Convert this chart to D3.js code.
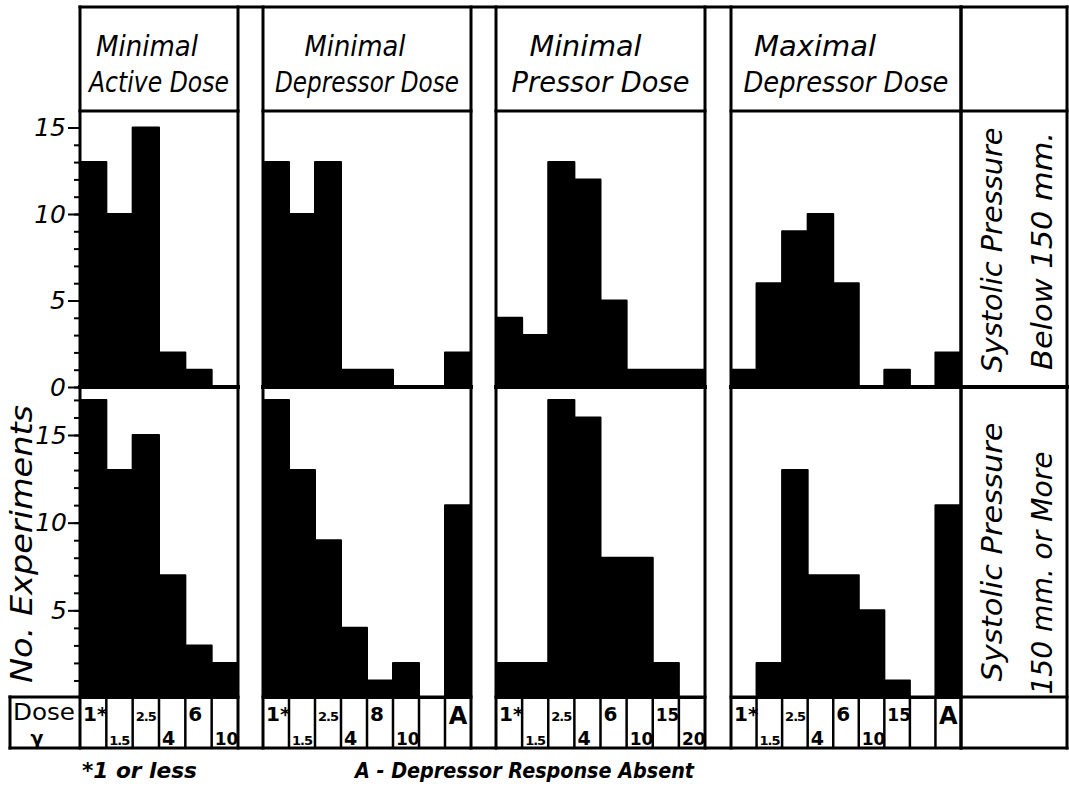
<!DOCTYPE html>
<html>
<head>
<meta charset="utf-8">
<script src="https://cdn.jsdelivr.net/npm/d3@7"></script>
<style>
html, body { margin: 0; padding: 0; background: #fff; overflow: hidden; }
svg { display: block; }
text { font-family: "DejaVu Sans", "Liberation Sans", sans-serif; fill: #000; }
</style>
</head>
<body>
<svg width="1069" height="788"></svg>
<script>
// column titles
var titleLine1 = ["Minimal", "Minimal", "Minimal", "Maximal"]
var titleLine2 = ["Active Dose", "Depressor Dose", "Pressor Dose", "Depressor Dose"]

// dose categories (gamma) per panel
var doseActive = ["1*", "1.5", "2.5", "4", "6", "10"]
var doseDepressor = ["1*", "1.5", "2.5", "4", "8", "10", "", "A"]
var dosePressor = ["1*", "1.5", "2.5", "4", "6", "10", "15", "20"]
var doseMaxDepressor = ["1*", "1.5", "2.5", "4", "6", "10", "15", "", "A"]

// no. of experiments, systolic pressure below 150 mm.
var belowActive = [13, 10, 15, 2, 1, 0]
var belowDepressor = [13, 10, 13, 1, 1, 0, 0, 2]
var belowPressor = [4, 3, 13, 12, 5, 1, 1, 1]
var belowMaxDepressor = [1, 6, 9, 10, 6, 0, 1, 0, 2]

// no. of experiments, systolic pressure 150 mm. or more
var aboveActive = [17, 13, 15, 7, 3, 2]
var aboveDepressor = [17, 13, 9, 4, 1, 2, 0, 11]
var abovePressor = [2, 2, 17, 16, 8, 8, 2, 0]
var aboveMaxDepressor = [0, 2, 13, 7, 7, 5, 1, 0, 11]

// axis ticks and labels
var topTicks = [0, 5, 10, 15]
var bottomTicks = [5, 10, 15]
var rowLabelTop = ["Systolic Pressure", "Below 150 mm."]
var rowLabelBottom = ["Systolic Pressure", "150 mm. or More"]
var yTitle = "No. Experiments"
var footnotes = ["*1 or less", "A - Depressor Response Absent"]

var doseLabels = [doseActive, doseDepressor, dosePressor, doseMaxDepressor]
var belowValues = [belowActive, belowDepressor, belowPressor, belowMaxDepressor]
var aboveValues = [aboveActive, aboveDepressor, abovePressor, aboveMaxDepressor]

var svg = d3.select("svg")

//Layout
var panelX = [[80, 238], [263, 471], [496, 705], [731, 961]]
var labelX = [961, 1067]
var yHead = 7, yChart = 111, yMid = 387, yDose = 697, yEnd = 748
var titleDx = [-12, -12, -15, -31]
var line1Len = [102, 101, 112, 122]
var line2Len = [140, 184, 178, 205]

var yTop = d3.scaleLinear().domain([0, 15]).range([yMid, 127.5])
var yBot = d3.scaleLinear().domain([0, 15]).range([yDose + 1, 435])

//Bars, drawn as a stepped silhouette like the hand inked original
function drawBars(g, x, y, values) {
    var pts = []
    values.forEach(function (v, i) {
        pts.push([x(i), v])
        pts.push([x(i) + x.bandwidth(), v])
    })
    var area = d3.area()
        .x(function (d) { return d[0] })
        .y0(y(0))
        .y1(function (d) { return y(d[1]) })
    g.append("path").datum(pts)
        .attr("d", area)
        .attr("fill", "black").attr("stroke", "black")
        .attr("stroke-width", 2).attr("stroke-linejoin", "round")
}

var bars = svg.append("g")
var labels = svg.append("g")

panelX.forEach(function (px, p) {
    var x = d3.scaleBand().domain(d3.range(doseLabels[p].length)).range(px)
    drawBars(bars, x, yTop, belowValues[p])
    drawBars(bars, x, yBot, aboveValues[p])

    //Dose row dividers and labels
    x.domain().slice(1).forEach(function (i) {
        bars.append("line")
            .attr("x1", x(i)).attr("x2", x(i))
            .attr("y1", yDose).attr("y2", yEnd)
            .attr("stroke", "black").attr("stroke-width", 2.5)
    })
    doseLabels[p].forEach(function (d, i) {
        if (d === "") return
        var t = labels.append("text").text(d).attr("font-weight", "bold")
        if (d === "A") {
            t.attr("x", x(i) + x.bandwidth() / 2).attr("y", 724)
                .attr("text-anchor", "middle").attr("font-size", 24)
        } else if (i % 2 === 0) {
            t.attr("x", x(i) + 3).attr("y", 721)
                .attr("font-size", d.indexOf(".") >= 0 ? 13 : (d.length > 1 && d !== "1*" ? 17 : 20))
        } else {
            t.attr("x", x(i) + 3).attr("y", 745)
                .attr("font-size", d.indexOf(".") >= 0 ? 13 : (d.length > 1 ? 17 : 19))
        }
        if (d.indexOf(".") >= 0) t.attr("letter-spacing", -1)
    })

    //Header
    var cx = (px[0] + px[1]) / 2
    labels.append("text").text(titleLine1[p])
        .attr("x", cx + titleDx[p]).attr("y", 56)
        .attr("text-anchor", "middle").attr("font-size", 29).attr("font-style", "italic")
        .attr("textLength", line1Len[p]).attr("lengthAdjust", "spacingAndGlyphs")
    labels.append("text").text(titleLine2[p])
        .attr("x", cx).attr("y", 92)
        .attr("text-anchor", "middle").attr("font-size", 29).attr("font-style", "italic")
        .attr("textLength", line2Len[p]).attr("lengthAdjust", "spacingAndGlyphs")
})

//Frame
var frame = svg.append("g").attr("stroke", "black").attr("stroke-width", 3)
    .attr("stroke-linecap", "square").attr("fill", "none")
function hline(x1, x2, y) {
    frame.append("line").attr("x1", x1).attr("x2", x2).attr("y1", y).attr("y2", y)
}
function vline(x, y1, y2) {
    frame.append("line").attr("x1", x).attr("x2", x).attr("y1", y1).attr("y2", y2)
}
hline(panelX[0][0], labelX[1], yHead)
hline(10, labelX[1], yEnd)
panelX.concat([labelX]).forEach(function (px) {
    vline(px[0], yHead, yEnd)
    vline(px[1], yHead, yEnd)
    hline(px[0], px[1], yChart)
    hline(px[0], px[1], yDose)
})
panelX.concat([labelX]).forEach(function (px) {
    frame.append("line").attr("x1", px[0]).attr("x2", px[1])
        .attr("y1", yMid).attr("y2", yMid).attr("stroke-width", 4)
})
//Dose cell
hline(10, panelX[0][0], yDose)
vline(10, yDose, yEnd)
labels.append("text").text("Dose").attr("x", 13).attr("y", 720)
    .attr("font-size", 23).attr("textLength", 62).attr("lengthAdjust", "spacingAndGlyphs")
labels.append("text").text("γ").attr("x", 37).attr("y", 745)
    .attr("text-anchor", "middle").attr("font-size", 19).attr("font-weight", "bold")

//Axes
function styleAxis(g) {
    g.select(".domain").remove()
    g.selectAll("line").attr("stroke", "black").attr("stroke-width", 2)
    g.selectAll("text").attr("font-size", 25).attr("font-style", "italic")
        .attr("font-family", "DejaVu Sans, sans-serif").attr("fill", "black")
}
svg.append("g").attr("transform", "translate(80,0)")
    .call(d3.axisLeft(yTop).tickValues(d3.range(0, 16)).tickSize(6).tickFormat(""))
    .call(styleAxis)
svg.append("g").attr("transform", "translate(80,0)")
    .call(d3.axisLeft(yTop).tickValues(topTicks).tickSize(12).tickPadding(2))
    .call(styleAxis)
svg.append("g").attr("transform", "translate(80,0)")
    .call(d3.axisLeft(yBot).tickValues(d3.range(1, 18)).tickSize(6).tickFormat(""))
    .call(styleAxis)
svg.append("g").attr("transform", "translate(80,0)")
    .call(d3.axisLeft(yBot).tickValues(bottomTicks).tickSize(12).tickPadding(1))
    .call(styleAxis)

labels.append("text").text(yTitle)
    .attr("transform", "translate(32,544) rotate(-90)")
    .attr("text-anchor", "middle").attr("font-size", 30).attr("font-style", "italic")
    .attr("textLength", 278).attr("lengthAdjust", "spacingAndGlyphs")

//Row labels on the right
function rowLabel(lines, cy, lens) {
    labels.append("text").text(lines[0])
        .attr("transform", "translate(1002," + cy[0] + ") rotate(-90)")
        .attr("text-anchor", "middle").attr("font-size", 28).attr("font-style", "italic")
        .attr("textLength", lens[0]).attr("lengthAdjust", "spacingAndGlyphs")
    labels.append("text").text(lines[1])
        .attr("transform", "translate(1052," + cy[1] + ") rotate(-90)")
        .attr("text-anchor", "middle").attr("font-size", 28).attr("font-style", "italic")
        .attr("textLength", lens[1]).attr("lengthAdjust", "spacingAndGlyphs")
}
rowLabel(rowLabelTop, [250, 251], [245, 238])
rowLabel(rowLabelBottom, [552, 573], [259, 243])

//Footnotes
labels.append("text").text(footnotes[0]).attr("x", 82).attr("y", 778)
    .attr("font-size", 21).attr("font-style", "italic").attr("font-weight", "bold")
    .attr("textLength", 115).attr("lengthAdjust", "spacingAndGlyphs")
labels.append("text").text(footnotes[1]).attr("x", 355).attr("y", 778)
    .attr("font-size", 21).attr("font-style", "italic").attr("font-weight", "bold")
    .attr("textLength", 339).attr("lengthAdjust", "spacingAndGlyphs")
</script>
</body>
</html>
